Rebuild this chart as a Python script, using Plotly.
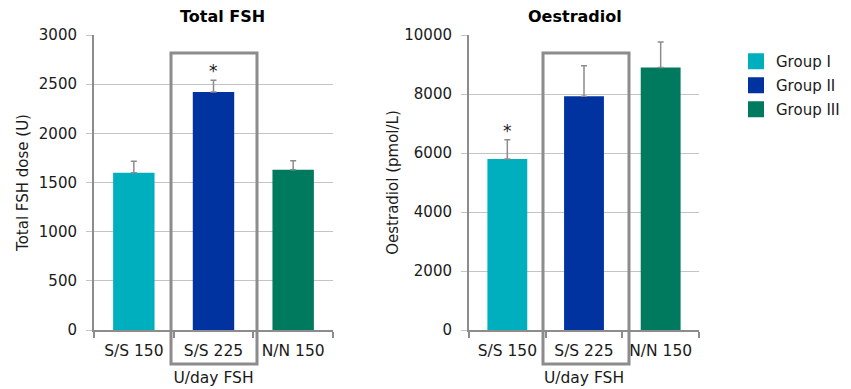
import plotly.graph_objects as go

categories = ["S/S 150", "S/S 225", "N/N 150"]
groups = ["Group I", "Group II", "Group III"]
colors = ["#00AFBD", "#0033A0", "#007A5E"]

fsh_values = [1600, 2420, 1630]
fsh_errors = [115, 120, 90]
fsh_sig = [False, True, False]

oe_values = [5800, 7920, 8900]
oe_errors = [650, 1040, 860]
oe_sig = [True, False, False]

fsh_ticks = [0, 500, 1000, 1500, 2000, 2500, 3000]
oe_ticks = [0, 2000, 4000, 6000, 8000, 10000]

W, H = 851, 389
FONT = "DejaVu Sans"
TXT = "#1a1a1a"
GRID = "#C4C4C4"
AXIS = "#8C8C8C"


def px(x):
    return x / W


def py(y):
    return (H - y) / H


fig = go.Figure()

panels = [
    ("x", "y", fsh_values, fsh_errors, fsh_sig),
    ("x2", "y2", oe_values, oe_errors, oe_sig),
]
for xa, ya, vals, errs, sig in panels:
    for i, cat in enumerate(categories):
        fig.add_trace(go.Bar(
            x=[cat], y=[vals[i]], name=groups[i], xaxis=xa, yaxis=ya,
            width=0.52, marker=dict(color=colors[i], line=dict(width=0)),
            error_y=dict(type="data", array=[errs[i]], arrayminus=[0],
                         symmetric=False, color=AXIS, thickness=1.5, width=3),
            showlegend=False,
        ))
        if sig[i]:
            fig.add_annotation(x=cat, y=vals[i] + errs[i], xref=xa, yref=ya,
                               text="*", showarrow=False, xanchor="center",
                               yanchor="bottom", yshift=-3,
                               font=dict(family=FONT, size=17, color=TXT))

# legend entries
for i, g in enumerate(groups):
    fig.add_trace(go.Scatter(
        x=[None], y=[None], mode="markers", name=g, xaxis="x", yaxis="y",
        legendgroup=g,
        marker=dict(symbol="square", size=16, color=colors[i]),
        showlegend=True,
    ))

ydom = [py(330), py(35)]
common_x = dict(type="category", showline=True, linecolor=AXIS, linewidth=2,
                ticks="outside", tickson="boundaries", ticklen=6, tickcolor=AXIS,
                tickwidth=1.5, tickfont=dict(family=FONT, size=15.5, color=TXT),
                ticklabelstandoff=5,
                showgrid=False, automargin=False, range=[-0.5, 2.5],
                title=dict(text="U/day FSH", font=dict(family=FONT, size=15.5, color=TXT),
                           standoff=14))
common_y = dict(showline=True, linecolor=AXIS, linewidth=2, ticks="outside",
                ticklen=6, tickcolor=GRID, tickwidth=1.2, showgrid=True,
                gridcolor=GRID, gridwidth=1.2, zeroline=False, automargin=False,
                tickformat="d", ticklabelstandoff=6,
                tickfont=dict(family=FONT, size=15, color=TXT))

fig.update_layout(
    width=W, height=H,
    margin=dict(l=0, r=0, t=0, b=0),
    paper_bgcolor="white", plot_bgcolor="white",
    barmode="overlay",
    font=dict(family=FONT, size=15, color=TXT),
    xaxis=dict(domain=[px(94), px(333)], anchor="y", **common_x),
    xaxis2=dict(domain=[px(469), px(699)], anchor="y2", **common_x),
    yaxis=dict(domain=ydom, anchor="x", range=[0, 3000], tickvals=fsh_ticks,
               title=dict(text="Total FSH dose (U)", standoff=7,
                          font=dict(family=FONT, size=15, color=TXT)),
               **common_y),
    yaxis2=dict(domain=ydom, anchor="x2", range=[0, 10000], tickvals=oe_ticks,
                title=dict(text="Oestradiol (pmol/L)", standoff=2,
                           font=dict(family=FONT, size=15, color=TXT)),
                **common_y),
    legend=dict(x=px(736), y=py(45), xanchor="left", yanchor="top",
                itemsizing="trace", font=dict(family=FONT, size=15, color=TXT),
                bgcolor="rgba(0,0,0,0)", tracegroupgap=1.5),
    showlegend=True,
)

# panel titles
fig.add_annotation(x=px(222), y=py(17), xref="paper", yref="paper", text="<b>Total FSH</b>",
                   showarrow=False, xanchor="center", yanchor="middle",
                   font=dict(family=FONT, size=16, color="#000"))
fig.add_annotation(x=px(575), y=py(17), xref="paper", yref="paper", text="<b>Oestradiol</b>",
                   showarrow=False, xanchor="center", yanchor="middle",
                   font=dict(family=FONT, size=16, color="#000"))

# highlight boxes around the S/S 225 column
for x0, x1 in [(171, 257), (543, 629)]:
    fig.add_shape(type="rect", xref="paper", yref="paper",
                  x0=px(x0), x1=px(x1), y0=py(364), y1=py(53),
                  line=dict(color=AXIS, width=3), fillcolor="rgba(0,0,0,0)", layer="above")

fig.write_html("out.html", config={"displayModeBar": False},
               post_script="document.body.style.margin='0';")
